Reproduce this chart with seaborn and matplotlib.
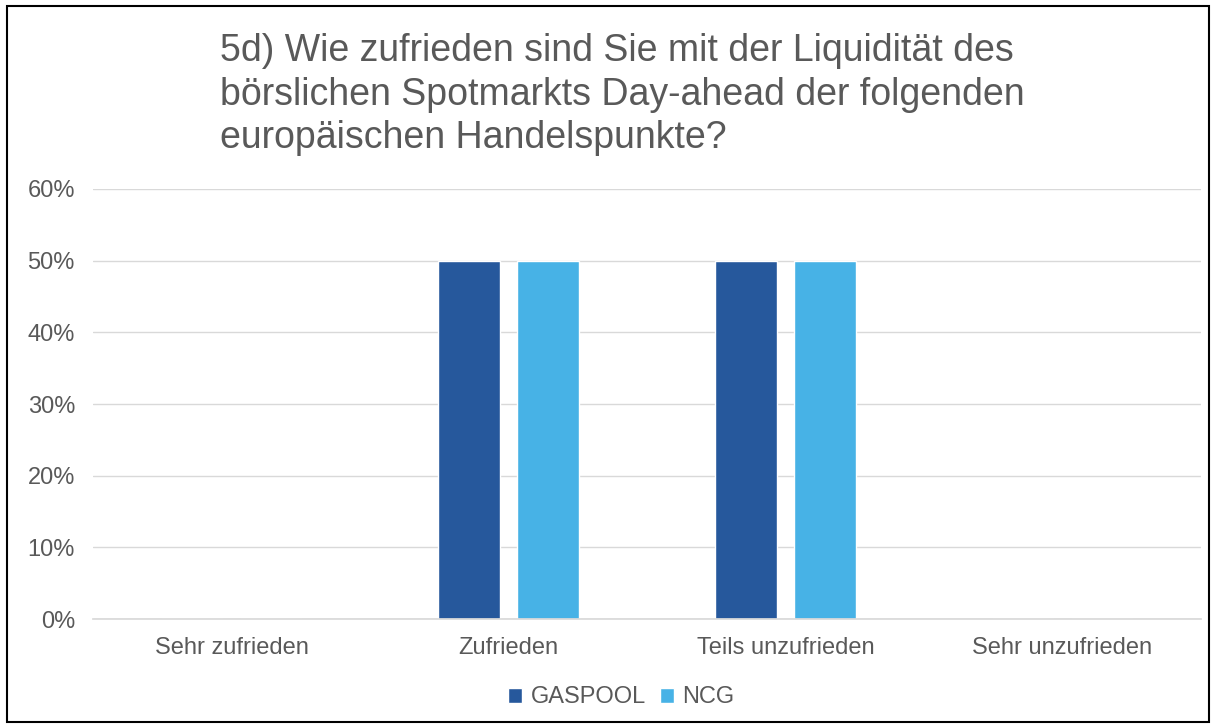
import matplotlib
matplotlib.use("Agg")
import matplotlib.pyplot as plt
import seaborn as sns
import pandas as pd
from matplotlib.patches import Rectangle
from matplotlib.ticker import PercentFormatter

categories = ["Sehr zufrieden", "Zufrieden", "Teils unzufrieden", "Sehr unzufrieden"]
gaspool = [0.0, 0.5, 0.5, 0.0]
ncg = [0.0, 0.5, 0.5, 0.0]
series_names = ["GASPOOL", "NCG"]
colors = ["#26589C", "#47B2E6"]
title = "5d) Wie zufrieden sind Sie mit der Liquidität des\nbörslichen Spotmarkts Day-ahead der folgenden\neuropäischen Handelspunkte?"

df = pd.DataFrame({
    "cat": categories * 2,
    "val": gaspool + ncg,
    "series": [series_names[0]] * 4 + [series_names[1]] * 4,
})

sns.set_theme(style="white")
plt.rcParams["font.family"] = ["Liberation Sans", "DejaVu Sans"]
txt = "#595959"

fig = plt.figure(figsize=(12.16, 7.28), dpi=100)
ax = fig.add_axes([0.0765, 0.1497, 0.9112, 0.5907])
sns.barplot(data=df, x="cat", y="val", hue="series", order=categories,
            hue_order=series_names, palette=colors, width=0.57, gap=0.215,
            ax=ax, legend=True, saturation=1)
ax.set_ylim(0, 0.6)
ax.set_yticks([0, 0.1, 0.2, 0.3, 0.4, 0.5, 0.6])
ax.yaxis.set_major_formatter(PercentFormatter(1.0, decimals=0))
ax.grid(axis="y", color="#d9d9d9", linewidth=1)
ax.set_axisbelow(True)
for s in ["top", "right", "left"]:
    ax.spines[s].set_visible(False)
ax.spines["bottom"].set_color("#d9d9d9")
ax.set_xlabel("")
ax.set_ylabel("")
ax.tick_params(axis="both", colors=txt, labelsize=17, length=0)
ax.tick_params(axis="y", pad=13)
ax.tick_params(axis="x", pad=13)

h, l = ax.get_legend_handles_labels()
ax.get_legend().remove()
fig.legend(h, l, loc="center", bbox_to_anchor=(0.511, 0.042), ncol=2, frameon=False,
           fontsize=17, labelcolor=txt, handlelength=0.6, handleheight=0.6,
           handletextpad=0.35, columnspacing=0.6)

fig.text(0.181, 0.955, title, ha="left", va="top", fontsize=27, color=txt,
         linespacing=1.28)

fig.patches.append(Rectangle((0.006, 0.008), 0.988, 0.984, transform=fig.transFigure,
                             fill=False, edgecolor="black", linewidth=1.5))

fig.savefig("out.png", dpi=100)
